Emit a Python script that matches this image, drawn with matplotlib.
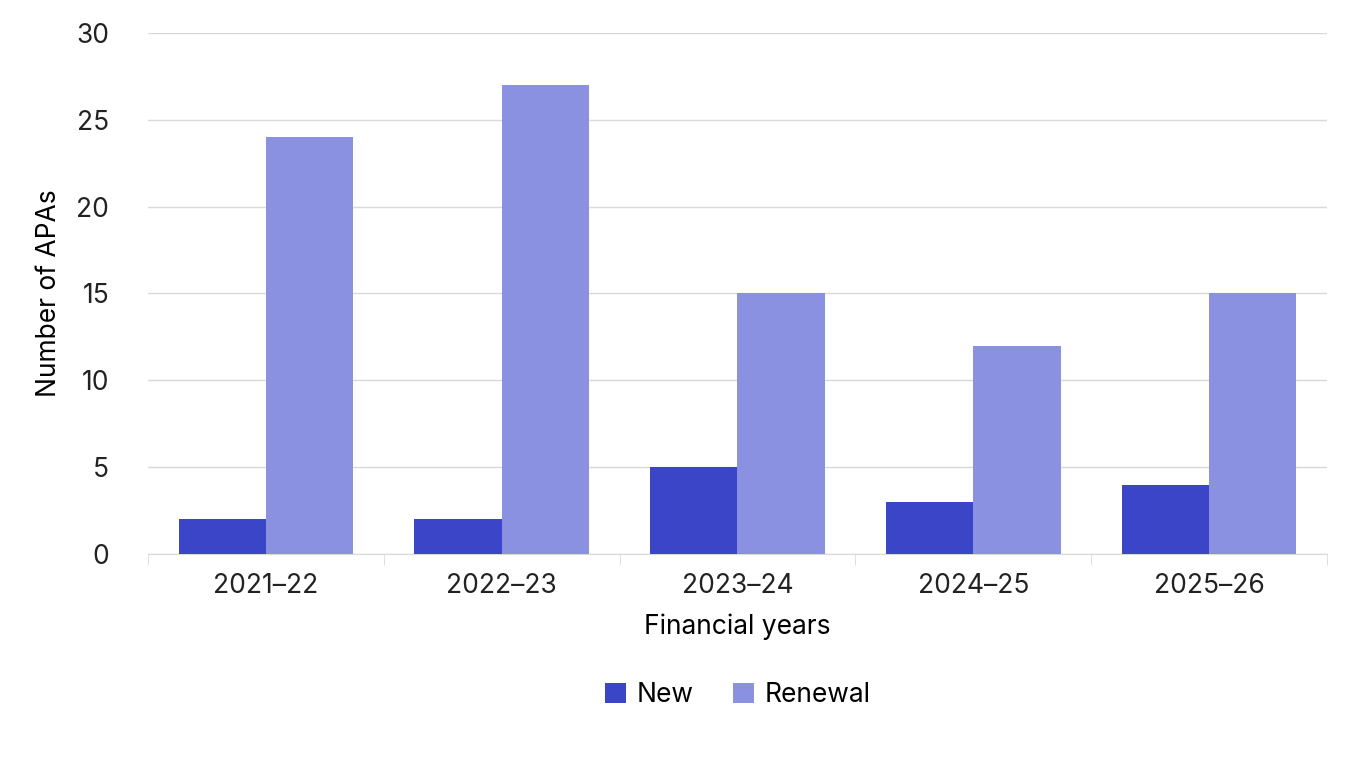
import numpy as np
import matplotlib
matplotlib.use("Agg")
import matplotlib.pyplot as plt

plt.rcParams['font.family'] = ['Inter', 'DejaVu Sans']

years = ["2021–22", "2022–23", "2023–24", "2024–25", "2025–26"]
new = [2, 2, 5, 3, 4]
renewal = [24, 27, 15, 12, 15]

C_NEW = "#3b45c8"
C_REN = "#8a91e0"

fig = plt.figure(figsize=(13.6, 7.65), dpi=100)
ax = fig.add_axes([0.1088, 0.2758, 0.8669, 0.6811])

x = np.arange(len(years))
w = 0.37
ax.bar(x - w / 2, new, w, color=C_NEW, label="New", zorder=3)
ax.bar(x + w / 2, renewal, w, color=C_REN, label="Renewal", zorder=3)

ax.set_xlim(-0.5, len(years) - 0.5)
ax.set_ylim(0, 30)
ax.set_yticks(range(0, 31, 5))
ax.grid(axis='y', color='#d9d9d9', lw=1, zorder=0)
for s in ("top", "right", "left"):
    ax.spines[s].set_visible(False)
ax.spines["bottom"].set_color('#d9d9d9')
ax.tick_params(axis='y', length=0, labelsize=19, pad=28, colors='#222222')
ax.set_xticks(x)
ax.set_xticklabels(years)
ax.tick_params(axis='x', length=0, labelsize=19, pad=14, colors='#222222')
ax.set_xticks(np.arange(-0.5, len(years)), minor=True)
ax.tick_params(axis='x', which='minor', length=8, color='#d9d9d9')

ax.set_xlabel("Financial years", fontsize=19, labelpad=10)
ax.set_ylabel("Number of APAs", fontsize=19, labelpad=10)

ax.legend(loc='upper center', bbox_to_anchor=(0.5, -0.2), ncol=2, frameon=False,
          fontsize=19, handlelength=0.8, handleheight=0.8, handletextpad=0.4,
          columnspacing=1.5)

fig.savefig("out.png", dpi=100)
